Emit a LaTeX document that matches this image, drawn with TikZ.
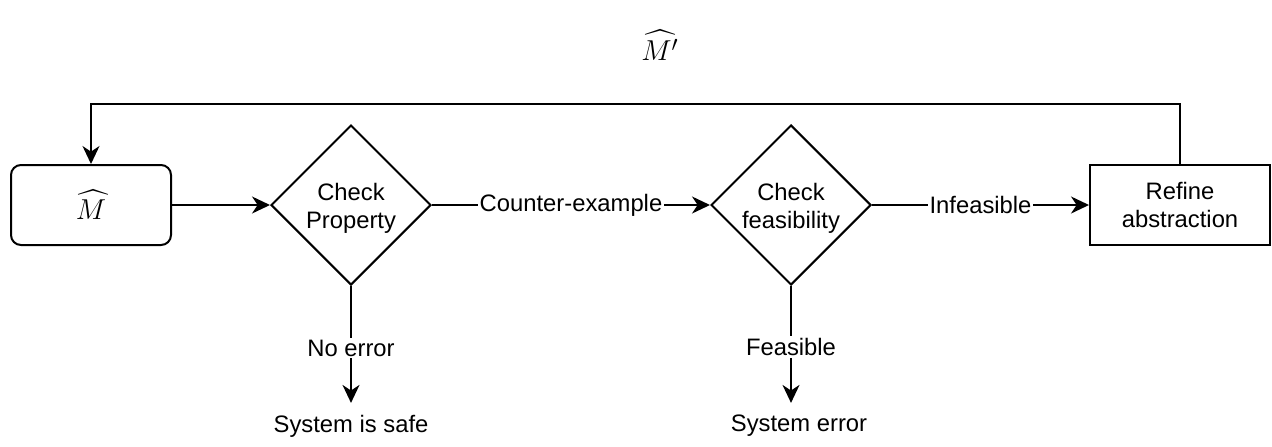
\documentclass[tikz,border=0pt]{standalone}
\usepackage{amsmath, amssymb}
\usepackage{fontspec}
\setmainfont{Liberation Sans}
\usepackage{tikz}
\usetikzlibrary{shapes.geometric, arrows.meta}

\begin{document}
\begin{tikzpicture}[x=0.5pt, y=-0.5pt, line width=1pt,
		font=\fontsize{11.9}{14}\selectfont,
		model/.style={draw, rounded corners=5pt, minimum width=80pt, minimum height=40pt, font=\fontsize{15}{18}\selectfont},
		decision/.style={draw, diamond, aspect=1, inner sep=0pt, minimum width=80pt, minimum height=80pt, align=center},
		process/.style={draw, minimum width=90pt, minimum height=40pt, align=center},
		outcome/.style={inner xsep=2pt, inner ysep=5.5pt},
		flow/.style={-{Stealth[length=9pt, width=8.5pt, inset=2.8pt]}},
		tag/.style={fill=white, inner sep=1pt}]
	\useasboundingbox (0, 0) rectangle (1272, 446);

	\node[model] (mhat) at (91, 205) {\(\widehat{M}\)};
	\node[decision] (prop) at (351, 205) {\rule{0pt}{12pt}Check\\Property};
	\node[decision] (feas) at (791, 205) {\rule{0pt}{12pt}Check\\feasibility};
	\node[process] (refine) at (1180, 205) {Refine\\abstraction};
	\node[outcome] (safe) at (351, 426) {System is safe};
	\node[outcome] (err) at (799, 426) {System error};
	\node[font=\fontsize{15}{18}\selectfont] (mnew) at (660, 45) {\(\widehat{M'}\)};

	\draw[flow] (mhat) -- (prop);
	\draw[flow] (prop) -- node[tag] {Counter-example} (feas);
	\draw[flow] (feas) -- node[tag] {Infeasible} (refine);
	\draw[flow] (prop.south) -- node[tag, pos=0.53] {No error} (safe.north -| prop.south);
	\draw[flow] (feas.south) -- node[tag, pos=0.52] {Feasible} (safe.north -| feas.south);
	\draw[flow] (refine.north) -- ++(0, -60) -| (mhat.north);
\end{tikzpicture}
\end{document}
